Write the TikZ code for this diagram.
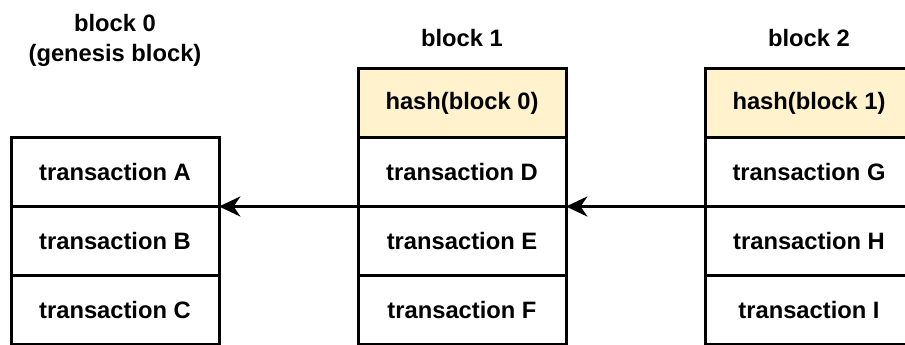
\documentclass[tikz,border=0pt]{standalone}
\usepackage{fontspec}
\setmainfont{Liberation Sans}
\usetikzlibrary{arrows.meta,positioning}
\definecolor{hashfill}{HTML}{FFF2CC}

\begin{document}
\begin{tikzpicture}[x=0.75pt, y=-0.75pt, node distance=0pt,
                    >={Stealth[length=16pt,width=15pt,inset=5pt]},
                    every node/.append style={align=center},
                    lbl/.style={font=\fontsize{17.8}{22.5}\selectfont\bfseries},
                    cell/.style={draw, line width=2.25pt, outer sep=0pt,
                                 minimum width=156pt, minimum height=51.75pt,
                                 font=\fontsize{17.8}{22.5}\selectfont\bfseries},
                    hsh/.style={cell, fill=hashfill}]
    \useasboundingbox (0,0) rectangle (905,345);

    % block 0
    \node [lbl] (lbl0) at (115,40) {block 0\\(genesis block)};
    \node [cell] (b0a) at (115,172) {transaction A};
    \node [cell, below=of b0a] (b0b) {transaction B};
    \node [cell, below=of b0b] (b0c) {transaction C};

    % block 1
    \node [lbl] (lbl1) at (462,38) {block 1};
    \node [hsh] (b1h) at (462,103) {hash(block 0)};
    \node [cell, below=of b1h] (b1d) {transaction D};
    \node [cell, below=of b1d] (b1e) {transaction E};
    \node [cell, below=of b1e] (b1f) {transaction F};

    % block 2
    \node [lbl] (lbl2) at (809,38) {block 2};
    \node [hsh] (b2h) at (809,103) {hash(block 1)};
    \node [cell, below=of b2h] (b2g) {transaction G};
    \node [cell, below=of b2g] (b2h2) {transaction H};
    \node [cell, below=of b2h2] (b2i) {transaction I};

    \draw [->, line width=2.25pt] (b1d.south west) -- (b0a.south east);
    \draw [->, line width=2.25pt] (b2g.south west) -- (b1d.south east);
\end{tikzpicture}
\end{document}
